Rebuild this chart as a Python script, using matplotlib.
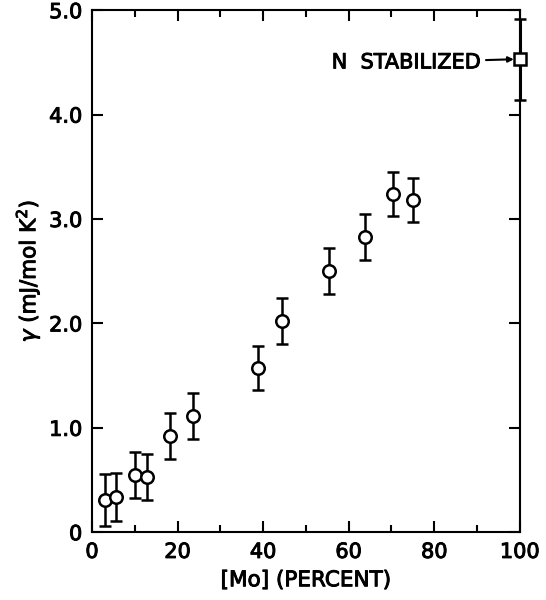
import matplotlib
matplotlib.use("Agg")
import matplotlib.pyplot as plt
import matplotlib.patheffects as pe
from matplotlib.ticker import MultipleLocator

# data
mo_pct = [3.0, 5.5, 10.0, 12.8, 18.2, 23.7, 38.8, 44.3, 55.5, 63.8, 70.4, 75.1]
gamma = [0.31, 0.34, 0.55, 0.53, 0.92, 1.11, 1.57, 2.02, 2.50, 2.83, 3.24, 3.18]
gamma_err = [0.25, 0.23, 0.22, 0.22, 0.22, 0.22, 0.21, 0.22, 0.22, 0.22, 0.21, 0.21]

n_stab_x = [100]
n_stab_y = [4.53]
n_stab_err = [0.39]

x_ticks = [0, 20, 40, 60, 80, 100]
x_labels = ["0", "20", "40", "60", "80", "100"]
y_ticks = [0, 1, 2, 3, 4, 5]
y_labels = ["0", "1.0", "2.0", "3.0", "4.0", "5.0"]

plt.rcParams['font.family'] = ['DejaVu Sans']

# slightly heavier pen, like the hand-lettered original
thick = [pe.withStroke(linewidth=0.7, foreground='black')]

fig = plt.figure(figsize=(5.46, 6.0), dpi=100)
ax = fig.add_axes([0.1685, 0.113, 0.7835, 0.870])

ax.errorbar(mo_pct, gamma, yerr=gamma_err, fmt='o', color='black',
            mfc='white', mec='black', ms=9, mew=1.8, elinewidth=1.8,
            capsize=4.5, capthick=1.8)
ax.errorbar(n_stab_x, n_stab_y, yerr=n_stab_err, fmt='s', color='black',
            mfc='white', mec='black', ms=8, mew=1.8, elinewidth=2.2,
            capsize=4.5, capthick=1.8, clip_on=False, zorder=5)

ax.annotate("N  STABILIZED", xy=(98.6, 4.53), xytext=(90.8, 4.50),
            ha='right', va='center', fontsize=15, path_effects=thick,
            arrowprops=dict(arrowstyle='-|>', color='black', lw=1.5,
                            mutation_scale=8, shrinkA=2, shrinkB=0))

ax.set_xlim(0, 100)
ax.set_ylim(0, 5)
ax.set_xticks(x_ticks)
ax.set_xticklabels(x_labels)
ax.set_yticks(y_ticks)
ax.set_yticklabels(y_labels)
ax.xaxis.set_minor_locator(MultipleLocator(10))

ax.tick_params(which='both', direction='in', top=True, right=True,
               labelsize=15, width=1.5)
ax.tick_params(which='major', length=8, pad=7)
ax.tick_params(which='minor', length=5)
for lab in ax.get_xticklabels() + ax.get_yticklabels():
    lab.set_path_effects(thick)

for s in ax.spines.values():
    s.set_linewidth(1.5)

ax.set_xlabel("[Mo] (PERCENT)", fontsize=15.5, labelpad=6, path_effects=thick)
ax.set_ylabel(r"$\gamma$ (mJ/mol K$^2$)", fontsize=15.5, labelpad=5,
              path_effects=thick)

fig.savefig("out.png", dpi=100)
